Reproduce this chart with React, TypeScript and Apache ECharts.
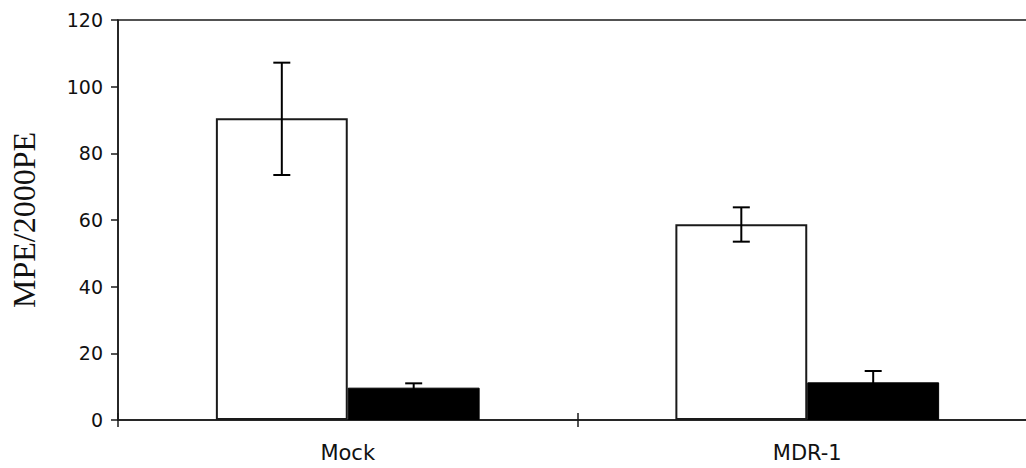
import React, { useEffect, useRef } from "react";
import * as echarts from "echarts";

const categories = ["Mock", "MDR-1"];
const whiteValues = [90.5, 58.7];
const blackValues = [9.7, 11.3];
const whiteErrLow = [73.5, 53.5];
const whiteErrHigh = [107.2, 63.8];
const blackErrLow = [8.4, 7.9];
const blackErrHigh = [11.0, 14.7];
const yTicks = [0, 20, 40, 60, 80, 100, 120];

const GAP = 0.426;

export default function App() {
  const ref = useRef<HTMLDivElement>(null);
  useEffect(() => {
    if (!ref.current) return;
    const chart = echarts.init(ref.current, null, { renderer: "svg" });
    const errData: any[] = [];
    categories.forEach((_, i) => {
      errData.push([i, whiteErrLow[i], whiteErrHigh[i], -1]);
      errData.push([i, blackErrLow[i], blackErrHigh[i], 1]);
    });
    const lineColor = "#1a1a1a";
    chart.setOption({
      animation: false,
      backgroundColor: "#ffffff",
      grid: {
        left: 117,
        top: 20,
        bottom: 48,
        width: 920,
        show: true,
        borderColor: lineColor,
        borderWidth: 1.5,
      },
      xAxis: [
        {
          type: "category",
          data: categories,
          axisLine: { lineStyle: { color: lineColor, width: 1.5 } },
          axisTick: { show: true, length: 7, lineStyle: { color: lineColor, width: 1.5 } },
          axisLabel: {
            margin: 22,
            fontFamily: "DejaVu Sans",
            fontSize: 21,
            color: "#111",
          },
        },
        {
          type: "category",
          data: categories,
          position: "bottom",
          axisLine: { show: false },
          axisTick: { show: true, inside: true, length: 7, lineStyle: { color: lineColor, width: 1.5 } },
          axisLabel: { show: false },
        },
      ],
      yAxis: {
        type: "value",
        min: 0,
        max: 120,
        interval: 20,
        splitLine: { show: false },
        axisLine: { show: true, lineStyle: { color: lineColor, width: 1.5 } },
        axisTick: { show: true, length: 7, lineStyle: { color: lineColor, width: 1.5 } },
        axisLabel: {
          margin: 15,
          fontFamily: "DejaVu Sans",
          fontSize: 19,
          color: "#111",
          formatter: (v: number) => (yTicks.includes(v) ? String(v) : ""),
        },
        name: "MPE/2000PE",
        nameLocation: "middle",
        nameRotate: 90,
        nameGap: 78,
        nameTextStyle: {
          fontFamily: "Liberation Serif",
          fontSize: 32,
          color: "#111",
        },
      },
      series: [
        {
          type: "bar",
          data: whiteValues,
          barGap: "0%",
          barCategoryGap: GAP * 100 + "%",
          itemStyle: { color: "#ffffff", borderColor: lineColor, borderWidth: 2 },
        },
        {
          type: "bar",
          data: blackValues,
          barGap: "0%",
          barCategoryGap: GAP * 100 + "%",
          itemStyle: { color: "#000000", borderColor: "#000", borderWidth: 1 },
        },
        {
          type: "custom",
          data: errData,
          z: 10,
          renderItem: (params: any, api: any) => {
            const cat = api.value(0);
            const lo = api.value(1);
            const hi = api.value(2);
            const sign = api.value(3);
            const band = api.size([1, 0])[0];
            const bw = (band * (1 - GAP)) / 2;
            const pLo = api.coord([cat, lo]);
            const pHi = api.coord([cat, hi]);
            const x = pLo[0] + (sign * bw) / 2;
            const cap = 8.5;
            const style = { stroke: "#000", lineWidth: 2 };
            return {
              type: "group",
              children: [
                { type: "line", shape: { x1: x, y1: pLo[1], x2: x, y2: pHi[1] }, style },
                { type: "line", shape: { x1: x - cap, y1: pHi[1], x2: x + cap, y2: pHi[1] }, style },
                { type: "line", shape: { x1: x - cap, y1: pLo[1], x2: x + cap, y2: pLo[1] }, style },
              ],
            };
          },
        },
      ],
    });
    return () => chart.dispose();
  }, []);
  return (
    <div
      style={{
        position: "fixed",
        left: 0,
        top: 0,
        width: 1026,
        height: 468,
        overflow: "hidden",
        background: "#fff",
      }}
    >
      <div ref={ref} style={{ width: 1040, height: 468 }} />
    </div>
  );
}
